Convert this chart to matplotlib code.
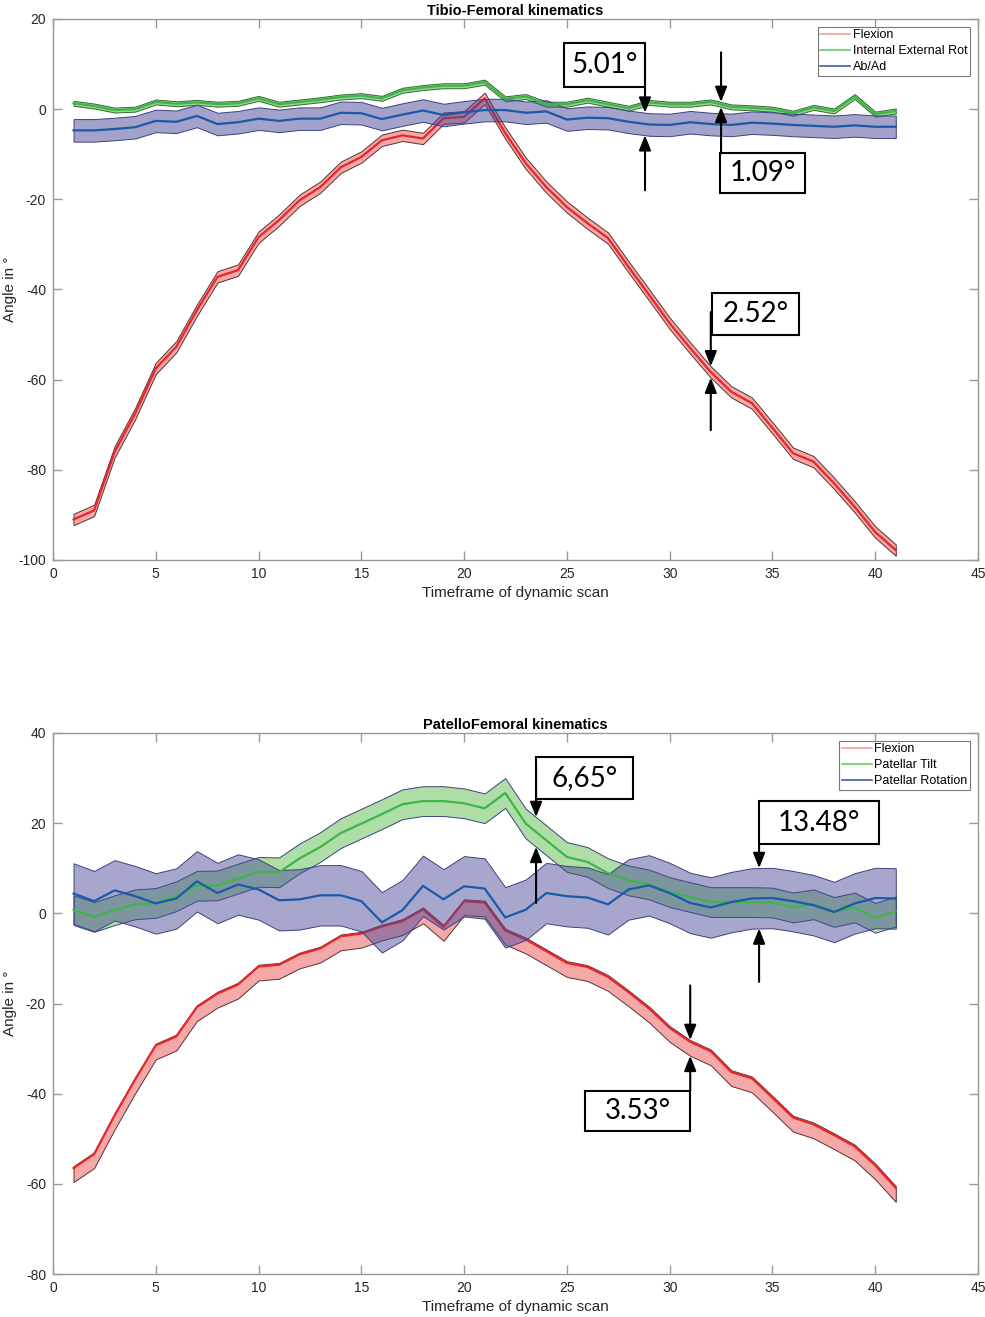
import numpy as np
import matplotlib
matplotlib.use('Agg')
import matplotlib.pyplot as plt
from matplotlib.lines import Line2D
from matplotlib.patches import Rectangle
from matplotlib.colors import to_rgba

plt.rcParams['font.family'] = ['Liberation Sans', 'DejaVu Sans']
plt.rcParams['axes.unicode_minus'] = False

frames = np.arange(1, 42)

# Tibio-femoral means (deg)
tf_flexion = [-91, -89, -76, -67.5, -57.5, -52.7, -44.6, -37.2, -35.7, -28.4,
              -24.6, -20.2, -17.3, -12.9, -10.6, -6.9, -5.8, -6.5, -2.0, -1.7,
              2.4, -5.3, -12.0, -17.3, -21.7, -25.3, -28.6, -35.0, -41.2, -47.5,
              -53.0, -58.3, -62.7, -65.2, -70.7, -76.3, -78.2, -83.0, -88.2, -93.8, -97.8]
tf_int_ext_rot = [1.3, 0.7, -0.2, 0.0, 1.6, 1.2, 1.5, 1.1, 1.3, 2.4,
                  1.1, 1.6, 2.1, 2.7, 3.0, 2.4, 4.2, 4.8, 5.2, 5.2,
                  6.0, 2.3, 2.8, 1.1, 1.1, 2.0, 1.1, 0.2, 1.5, 1.1,
                  1.1, 1.6, 0.5, 0.3, 0.0, -0.9, 0.4, -0.4, 2.8, -1.1, -0.4]
tf_ab_ad = [-4.7, -4.7, -4.4, -4.0, -2.6, -2.8, -1.5, -3.3, -2.9, -2.1,
            -2.6, -2.1, -2.1, -0.8, -0.9, -2.2, -1.2, -0.3, -1.3, -0.7,
            -0.2, -0.2, -0.8, -0.5, -2.3, -1.9, -2.0, -2.8, -3.4, -3.5,
            -2.9, -3.3, -3.5, -3.0, -3.2, -3.5, -3.7, -3.9, -3.6, -3.9, -3.9]
tf_flexion_sd = 1.26
tf_rot_sd = 0.55
tf_abad_sd = 2.5

# Patello-femoral means (deg)
pf_flexion = [-56.5, -53.4, -44.8, -36.8, -29.3, -27.3, -20.8, -17.8, -15.8, -11.8,
              -11.4, -9.1, -7.8, -5.1, -4.5, -2.9, -1.7, 0.9, -3.0, 2.7,
              2.4, -3.8, -5.8, -8.4, -11.0, -11.9, -14.1, -17.5, -21.1, -25.4,
              -28.5, -30.6, -35.2, -36.6, -40.9, -45.3, -46.8, -49.2, -51.7, -55.9, -60.9]
pf_tilt = [0.7, -0.8, 0.7, 2.0, 2.3, 3.8, 6.1, 6.2, 7.7, 9.2,
           9.1, 12.2, 14.7, 17.8, 19.9, 22.0, 24.2, 24.9, 24.9, 24.4,
           23.3, 26.7, 19.9, 16.2, 12.5, 11.4, 8.9, 7.3, 6.4, 4.7,
           3.6, 2.5, 2.5, 2.5, 2.4, 1.3, 2.0, 0.3, 1.3, -1.0, 0.4]
pf_rotation = [4.4, 2.7, 5.1, 3.8, 2.2, 3.3, 7.1, 4.5, 6.4, 5.3,
               2.9, 3.1, 4.0, 4.0, 2.7, -2.0, 0.7, 6.1, 3.1, 6.0,
               5.5, -0.9, 0.8, 4.5, 3.8, 3.5, 2.0, 5.3, 6.2, 4.5,
               2.3, 1.3, 2.5, 3.3, 3.4, 2.7, 1.8, 0.3, 2.2, 3.4, 3.3]
pf_flexion_up = 0.4
pf_flexion_down = 3.1
pf_tilt_sd = 3.3
pf_rotation_sd = 6.7

RED_FILL, RED_EDGE, RED_LINE = '#ee6e6e', '#5a3030', '#e8262a'
GRN_FILL, GRN_EDGE, GRN_LINE = '#4fb43a', '#2f6a2f', '#3cb64a'
BLU_FILL, BLU_EDGE, BLU_LINE = '#474799', '#3b4180', '#1a5aa8'
AXIS_GREY = '#9a9a9a'


def band(ax, x, lo, hi, fc, alpha, ec, z):
    ax.fill_between(x, lo, hi, facecolor=to_rgba(fc, alpha), edgecolor=ec,
                    linewidth=0.7, zorder=z)


def note(ax, text, box, x, top, bottom, down_from, up_from):
    x0, y0, x1, y1 = box
    ax.add_patch(Rectangle((x0, y0), x1 - x0, y1 - y0, facecolor='white',
                           edgecolor='black', linewidth=1.5, zorder=10))
    ax.text((x0 + x1) / 2, (y0 + y1) / 2, text, ha='center', va='center',
            fontsize=20, family=['Lato', 'DejaVu Sans'], zorder=11)
    style = dict(arrowstyle='-|>,head_length=0.45,head_width=0.18', color='black',
                 lw=1.5, shrinkA=0, shrinkB=0, mutation_scale=20)
    ax.annotate('', xy=(x, np.interp(x, frames, top)), xytext=(x, down_from),
                arrowprops=style, zorder=12)
    ax.annotate('', xy=(x, np.interp(x, frames, bottom)), xytext=(x, up_from),
                arrowprops=style, zorder=12)


def style_axes(ax, ylim, yticks, title, labels):
    ax.set_xlim(0, 45)
    ax.set_ylim(*ylim)
    ax.set_xticks(range(0, 46, 5))
    ax.set_yticks(yticks)
    for s in ax.spines.values():
        s.set_color(AXIS_GREY)
        s.set_linewidth(1.0)
    ax.tick_params(direction='in', length=6.5, width=1.0, color=AXIS_GREY,
                   labelsize=10, labelcolor='#262626', top=True, right=True, pad=5)
    ax.set_title(title, fontsize=10.5, fontweight='bold', pad=3)
    ax.set_xlabel('Timeframe of dynamic scan', fontsize=11, color='#262626')
    ax.set_ylabel('Angle in °', fontsize=11, color='#262626')
    ax.yaxis.set_label_coords(-36 / 925, 0.5)
    handles = [Line2D([], [], color='#f4a0a0', lw=1.2),
               Line2D([], [], color='#66cc66', lw=1.2),
               Line2D([], [], color='#4a5aa8', lw=1.2)]
    leg = ax.legend(handles, labels, loc='upper right',
                    bbox_to_anchor=(1 - 8 / 925, 1 - 8 / 541), borderaxespad=0,
                    fontsize=9, handlelength=2.4, handletextpad=0.2,
                    labelspacing=0.3, borderpad=0.2, fancybox=False, framealpha=1)
    leg.get_frame().set_edgecolor('#777777')
    leg.get_frame().set_linewidth(0.8)
    leg.set_zorder(20)


fig = plt.figure(figsize=(9.85, 13.17), dpi=100)
ax1 = fig.add_axes([53 / 985, 1 - 560 / 1317, 925 / 985, 541 / 1317])
ax2 = fig.add_axes([53 / 985, 1 - 1274 / 1317, 925 / 985, 541 / 1317])

# ---- Tibio-Femoral ----
fl = np.array(tf_flexion)
rt = np.array(tf_int_ext_rot)
ab = np.array(tf_ab_ad)
band(ax1, frames, rt - tf_rot_sd, rt + tf_rot_sd, GRN_FILL, 0.55, GRN_EDGE, 1)
band(ax1, frames, fl - tf_flexion_sd, fl + tf_flexion_sd, RED_FILL, 0.6, RED_EDGE, 2)
ax1.plot(frames, fl, color=RED_LINE, lw=1.6, zorder=3)
band(ax1, frames, ab - tf_abad_sd, ab + tf_abad_sd, BLU_FILL, 0.5, BLU_EDGE, 4)
ax1.plot(frames, rt, color=GRN_LINE, lw=1.6, zorder=5)
ax1.plot(frames, ab, color=BLU_LINE, lw=1.6, zorder=6)
style_axes(ax1, (-100, 20), range(-100, 21, 20), 'Tibio-Femoral kinematics',
           ['Flexion', 'Internal External Rot', 'Ab/Ad'])
note(ax1, '5.01°', (24.85, 4.9, 28.8, 14.6), 28.8, ab + tf_abad_sd, ab - tf_abad_sd, 12.5, -18)
note(ax1, '1.09°', (32.45, -18.6, 36.6, -9.8), 32.5, rt + tf_rot_sd, rt - tf_rot_sd, 12.6, -9.8)
note(ax1, '2.52°', (32.05, -50.1, 36.3, -40.8), 32.0, fl + tf_flexion_sd, fl - tf_flexion_sd, -45, -71.2)

# ---- PatelloFemoral ----
fl = np.array(pf_flexion)
tl = np.array(pf_tilt)
pr = np.array(pf_rotation)
band(ax2, frames, tl - pf_tilt_sd, tl + pf_tilt_sd, GRN_FILL, 0.45, BLU_EDGE, 1)
band(ax2, frames, fl - pf_flexion_down, fl + pf_flexion_up, RED_FILL, 0.6, RED_EDGE, 2)
ax2.plot(frames, fl, color=RED_LINE, lw=1.6, zorder=3)
band(ax2, frames, pr - pf_rotation_sd, pr + pf_rotation_sd, BLU_FILL, 0.48, BLU_EDGE, 4)
ax2.plot(frames, tl, color=GRN_LINE, lw=1.6, zorder=5)
ax2.plot(frames, pr, color=BLU_LINE, lw=1.6, zorder=6)
style_axes(ax2, (-80, 40), range(-80, 41, 20), 'PatelloFemoral kinematics',
           ['Flexion', 'Patellar Tilt', 'Patellar Rotation'])
note(ax2, '6,65°', (23.5, 25.3, 28.2, 34.7), 23.5, tl + pf_tilt_sd, tl - pf_tilt_sd, 32.8, 2.3)
note(ax2, '13.48°', (34.35, 15.3, 40.2, 24.9), 34.35, pr + pf_rotation_sd, pr - pf_rotation_sd, 15.3, -15.2)
note(ax2, '3.53°', (25.9, -48.3, 31.0, -39.4), 31.0, fl + pf_flexion_up, fl - pf_flexion_down, -16, -39.4)

fig.savefig('out.png', dpi=100)
